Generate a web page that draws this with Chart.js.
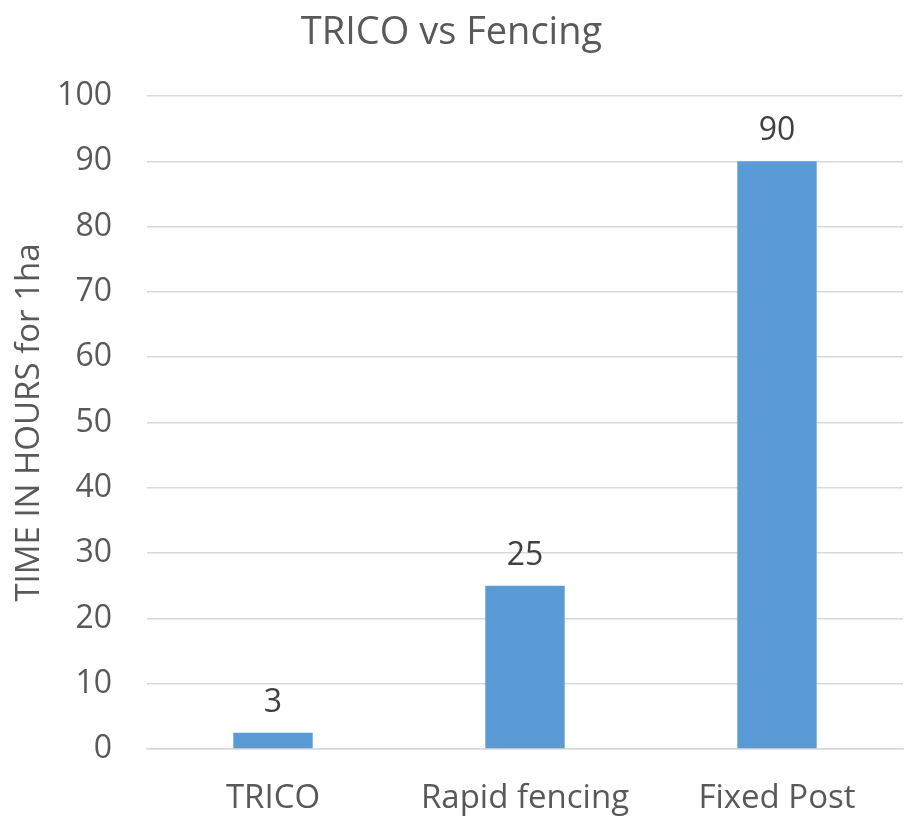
<!DOCTYPE html>
<html>
<head>
<meta charset="utf-8">
<script src="https://cdn.jsdelivr.net/npm/chart.js@4"></script>
<style>
  html, body { margin: 0; padding: 0; background: #fff; }
  #wrap { width: 911px; height: 819px; }
</style>
</head>
<body>
<div id="wrap"><canvas id="chart"></canvas></div>
<script>
// values
const categories = ['TRICO', 'Rapid fencing', 'Fixed Post'];
const hours = [2.5, 25, 90];
const yTicks = [0, 10, 20, 30, 40, 50, 60, 70, 80, 90, 100];

const FONT = '"Open Sans", "Noto Sans", sans-serif';

// draws the value above each bar, like Excel's data labels
const barLabels = {
    id: 'barLabels',
    afterDatasetsDraw(chart) {
        const ctx = chart.ctx;
        const meta = chart.getDatasetMeta(0);
        ctx.save();
        ctx.font = '32px ' + FONT;
        ctx.fillStyle = '#404040';
        ctx.textAlign = 'center';
        ctx.textBaseline = 'middle';
        meta.data.forEach((bar, i) => {
            ctx.fillText(String(Math.round(hours[i])), bar.x, bar.y - 30);
        });
        ctx.restore();
    }
};

new Chart(document.getElementById('chart').getContext('2d'), {
    type: 'bar',
    data: {
        labels: categories,
        datasets: [{
            data: hours,
            backgroundColor: '#5B9BD5',
            categoryPercentage: 1,
            barPercentage: 0.315
        }]
    },
    options: {
        responsive: true,
        maintainAspectRatio: false,
        animation: false,
        layout: { padding: { left: 0, right: 8, top: 0, bottom: 0 } },
        plugins: {
            legend: { display: false },
            tooltip: { enabled: false },
            title: {
                display: true,
                text: 'TRICO vs Fencing',
                color: '#595959',
                font: { family: FONT, size: 38, weight: 'normal' },
                padding: { top: 10, bottom: 40.4 }
            }
        },
        scales: {
            x: {
                grid: { display: false },
                border: { display: true, color: '#D9D9D9', width: 1.5 },
                ticks: {
                    color: '#595959',
                    font: { family: FONT, size: 33 },
                    padding: 22,
                    maxRotation: 0
                },
                afterFit(scale) { scale.height = 70; }
            },
            y: {
                min: 0,
                max: 100,
                afterBuildTicks(scale) {
                    scale.ticks = yTicks.map(v => ({ value: v }));
                },
                grid: { color: '#D9D9D9', lineWidth: 1.5, drawTicks: false },
                border: { display: false },
                ticks: {
                    color: '#595959',
                    font: { family: FONT, size: 32 },
                    padding: 35
                },
                title: {
                    display: true,
                    text: 'TIME IN HOURS for 1ha',
                    color: '#595959',
                    font: { family: FONT, size: 33, weight: 'normal' },
                    padding: { top: 10, bottom: 4 }
                },
                afterFit(scale) { scale.width = 147; }
            }
        }
    },
    plugins: [barLabels]
});
</script>
</body>
</html>
